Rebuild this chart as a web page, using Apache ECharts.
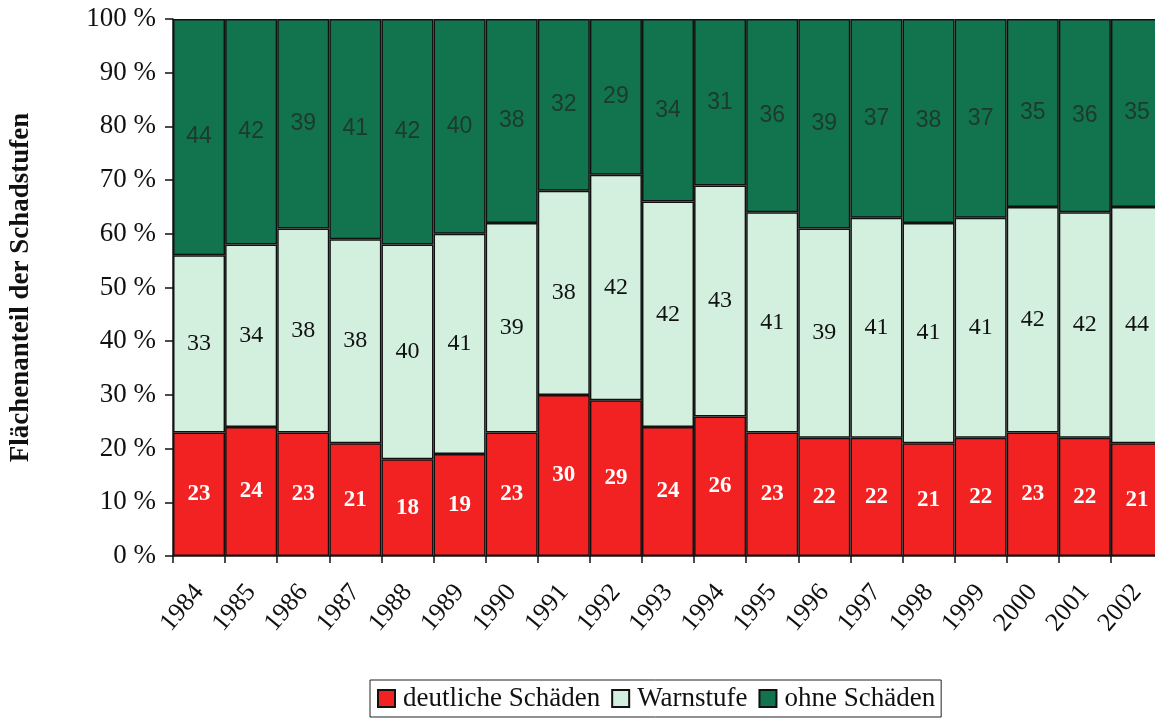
<!DOCTYPE html>
<html><head><meta charset="utf-8">
<script src="https://cdn.jsdelivr.net/npm/echarts@6/dist/echarts.min.js"></script>
<style>html,body{margin:0;padding:0;background:#fff}#c{width:1155px;height:719px}</style>
</head><body><div id="c"></div>
<script>
const years = ['1984','1985','1986','1987','1988','1989','1990','1991','1992','1993','1994','1995','1996','1997','1998','1999','2000','2001','2002'];
const deutlich = [23,24,23,21,18,19,23,30,29,24,26,23,22,22,21,22,23,22,21];
const warnstufe = [33,34,38,38,40,41,39,38,42,42,43,41,39,41,41,41,42,42,44];
const ohne = [44,42,39,41,42,40,38,32,29,34,31,36,39,37,38,37,35,36,35];
const yTicks = [0,10,20,30,40,50,60,70,80,90,100];

const chart = echarts.init(document.getElementById('c'), null, {renderer:'canvas'});
const serif = 'Liberation Serif';
const border = {borderColor:'#111', borderWidth:1.5};
chart.setOption({
  animation:false,
  grid:{left:173, top:19, width:990, height:537, outerBoundsMode:'none', containLabel:false},
  legend:{
    bottom:2, left:370, itemGap:11, itemWidth:17, itemHeight:17,
    borderColor:'#222', borderWidth:1, padding:[5,6,5,7],
    textStyle:{fontFamily:serif, fontSize:27, color:'#111', padding:[0,0,0,3]},
    itemStyle:{borderColor:'#111', borderWidth:2},
    icon:'rect'
  },
  xAxis:{
    type:'category', data:years,
    axisLine:{lineStyle:{color:'#111', width:1.5}},
    axisTick:{show:true, alignWithLabel:false, length:7, lineStyle:{color:'#111', width:1.5}},
    axisLabel:{rotate:50, fontFamily:serif, fontSize:26, color:'#111', margin:32, interval:0}
  },
  yAxis:{
    type:'value', min:0, max:100, interval:10,
    name:'Flächenanteil der Schadstufen', nameLocation:'middle', nameGap:138,
    nameTextStyle:{fontFamily:serif, fontSize:27, fontWeight:'bold', color:'#111'},
    splitLine:{show:false},
    axisLine:{show:true, lineStyle:{color:'#111', width:1.5}},
    axisTick:{show:true, length:8, lineStyle:{color:'#111', width:1.5}},
    axisLabel:{fontFamily:serif, fontSize:27, color:'#111', margin:17,
      formatter:v => yTicks.includes(v) ? v + ' %' : ''}
  },
  series:[
    {name:'deutliche Schäden', type:'bar', stack:'s', data:deutlich, barCategoryGap:'0%',
     itemStyle:Object.assign({color:'#f22222'}, border),
     label:{show:true, position:'inside', fontFamily:serif, fontWeight:'bold', fontSize:23, color:'#fff'}},
    {name:'Warnstufe', type:'bar', stack:'s', data:warnstufe, barCategoryGap:'0%',
     itemStyle:Object.assign({color:'#d3f0df'}, border),
     label:{show:true, position:'inside', fontFamily:serif, fontSize:24, color:'#111'}},
    {name:'ohne Schäden', type:'bar', stack:'s', data:ohne, barCategoryGap:'0%',
     itemStyle:Object.assign({color:'#12734f'}, border),
     label:{show:true, position:'inside', fontFamily:'Liberation Sans', fontSize:23, color:'#1d3a2c'}}
  ]
});
</script></body></html>
